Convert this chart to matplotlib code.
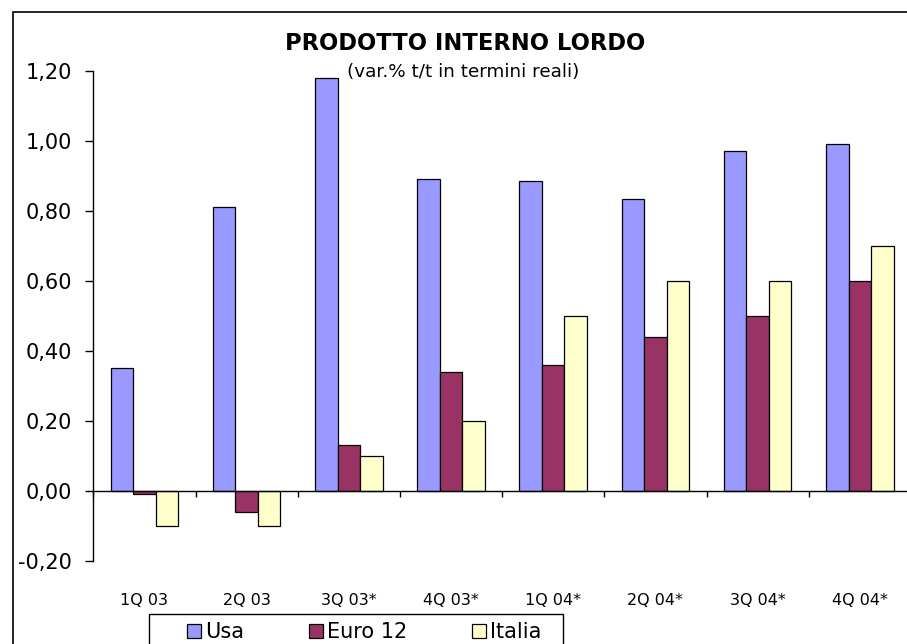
import numpy as np
import matplotlib
matplotlib.use("Agg")
import matplotlib.pyplot as plt
from matplotlib.patches import Rectangle, Patch
from matplotlib.ticker import FuncFormatter
from matplotlib.transforms import blended_transform_factory

# Quarterly real GDP change (% q/q)
quarters = ["1Q 03", "2Q 03", "3Q 03*", "4Q 03*", "1Q 04*", "2Q 04*", "3Q 04*", "4Q 04*"]
usa = [0.35, 0.81, 1.18, 0.89, 0.885, 0.835, 0.97, 0.99]
euro12 = [-0.01, -0.06, 0.13, 0.34, 0.36, 0.44, 0.50, 0.60]
italia = [-0.10, -0.10, 0.10, 0.20, 0.50, 0.60, 0.60, 0.70]
series_names = ["Usa", "Euro 12", "Italia"]
series_colors = ["#9999FF", "#993366", "#FFFFCC"]

plt.rcParams["font.family"] = ["DejaVu Sans"]

W, H = 907, 644
fig = plt.figure(figsize=(W / 100, H / 100), dpi=100)
fig.patch.set_facecolor("white")


def fx(px):
    return px / W


def fy(py):
    return 1 - py / H


# plot area
left, right, top, bottom = 93.3, 910.9, 71, 561
ax = fig.add_axes([fx(left), fy(bottom), fx(right - left), (bottom - top) / H])

x = np.arange(len(quarters))
bw = 0.22
for k, (vals, col) in enumerate(zip([usa, euro12, italia], series_colors)):
    ax.bar(x + (k - 1) * bw, vals, width=bw, color=col, edgecolor="black",
           linewidth=0.9, zorder=2)

ax.set_xlim(-0.5, len(quarters) - 0.5)
ax.set_ylim(-0.2, 1.2)

ax.spines["top"].set_visible(False)
ax.spines["right"].set_visible(False)
ax.spines["bottom"].set_position(("data", 0))
ax.spines["bottom"].set_linewidth(1.0)
ax.spines["bottom"].set_zorder(3)
ax.spines["left"].set_linewidth(1.0)

ax.set_yticks(np.round(np.arange(-0.2, 1.21, 0.2), 2))
ax.yaxis.set_major_formatter(FuncFormatter(lambda v, p: f"{v:.2f}".replace(".", ",")))
ax.tick_params(axis="y", direction="out", length=5.8, width=1.0, pad=9.5, labelsize=15)

ax.set_xticks(np.arange(-0.5, len(quarters), 1.0))
ax.set_xticklabels([])
ax.tick_params(axis="x", direction="out", length=4.5, width=1.0)

# category labels below the plot area
tr = blended_transform_factory(ax.transData, ax.transAxes)
for xi, q in zip(x, quarters):
    ax.text(xi, -0.08, q, transform=tr, ha="center", va="center", fontsize=11.5)

# titles
fig.text(fx(465), fy(50), "PRODOTTO INTERNO LORDO", ha="center", va="baseline",
         fontsize=16.3, fontweight="bold")
fig.text(fx(463), fy(77), "(var.% t/t in termini reali)", ha="center", va="baseline",
         fontsize=13.2)

# outer chart frame
fig.patches.append(Rectangle((fx(13), -0.1), 2, fy(12) + 0.1, transform=fig.transFigure,
                             fill=False, edgecolor="black", linewidth=1.2, zorder=0))

# legend with its own frame
fig.patches.append(Rectangle((fx(149), -0.1), fx(563 - 149), fy(614) + 0.1,
                             transform=fig.transFigure, fill=False, edgecolor="black",
                             linewidth=1.0, zorder=5))
handles = [Patch(facecolor=c, edgecolor="black", linewidth=0.9) for c in series_colors]
fig.legend(handles, series_names, loc="upper left", bbox_to_anchor=(fx(187), fy(622)),
           ncol=3, frameon=False, fontsize=15, borderpad=0, borderaxespad=0,
           handlelength=0.67, handleheight=0.67, handletextpad=0.2, columnspacing=3.1)

fig.savefig("out.png", dpi=100)
